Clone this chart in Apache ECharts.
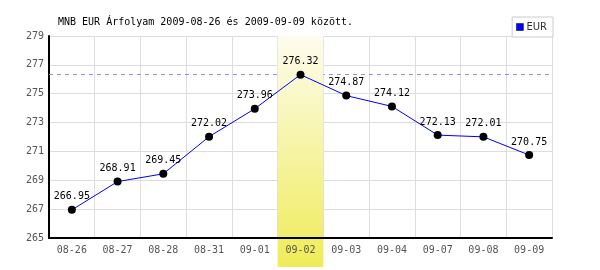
<!DOCTYPE html>
<html><head><meta charset="utf-8">
<script src="https://cdn.jsdelivr.net/npm/echarts@6/dist/echarts.min.js"></script>
<style>html,body{margin:0;padding:0;background:#fff}#c{width:600px;height:270px}</style>
</head><body><div id="c"></div>
<script>
const categories = ['08-26','08-27','08-28','08-31','09-01','09-02','09-03','09-04','09-07','09-08','09-09'];
const eurValues = [266.95, 268.91, 269.45, 272.02, 273.96, 276.32, 274.87, 274.12, 272.13, 272.01, 270.75];
const highlightCategory = '09-02';
const yTicks = [265, 267, 269, 271, 273, 275, 277, 279];
const titleText = 'MNB EUR Árfolyam 2009-08-26 és 2009-09-09 között.';
const seriesName = 'EUR';

const mono = 'DejaVu Sans Mono';
const highlightData = categories.map(c => c === highlightCategory ? 1 : null);

const chart = echarts.init(document.getElementById('c'), null, {renderer: 'canvas'});
chart.setOption({
  animation: false,
  backgroundColor: '#fff',
  title: {
    text: titleText, left: 53, top: 12,
    textStyle: {fontFamily: mono, fontSize: 10, fontWeight: 'normal', color: '#000'}
  },
  legend: {
    data: [{name: seriesName, itemStyle: {color: '#0000ff', borderColor: '#000', borderWidth: 0.5}}],
    right: 47, top: 17,
    backgroundColor: '#fff', borderColor: '#ccc', borderWidth: 1,
    padding: [5, 6, 5, 4], itemWidth: 7, itemHeight: 7, itemGap: 3,
    icon: 'rect',
    textStyle: {fontFamily: 'DejaVu Sans', fontSize: 10, color: '#333', padding: [0,0,0,-2]}
  },
  grid: [
    {left: 49, right: 48, top: 36, bottom: 32},
    {left: 49, right: 48, top: 36, bottom: 3}
  ],
  xAxis: [
    {
      type: 'category', data: categories, gridIndex: 0, boundaryGap: true, z: 0,
      axisLine: {show: false}, axisTick: {show: false}, axisLabel: {show: false},
      splitLine: {show: true, interval: 0, lineStyle: {color: '#ddd', width: 1}}
    },
    {
      type: 'category', data: categories, gridIndex: 1, boundaryGap: true, show: false
    },
    {
      type: 'category', data: categories, gridIndex: 0, boundaryGap: true, z: 10,
      position: 'bottom',
      axisLine: {show: true, onZero: false, lineStyle: {color: '#000', width: 2}},
      axisTick: {show: false},
      axisLabel: {fontFamily: mono, fontSize: 10, color: '#555', margin: 7, interval: 0},
      splitLine: {show: false}
    }
  ],
  yAxis: [
    {
      type: 'value', gridIndex: 0, min: yTicks[0], max: yTicks[yTicks.length-1], interval: 2,
      axisLine: {show: true, lineStyle: {color: '#000', width: 2}},
      axisTick: {show: false},
      axisLabel: {fontFamily: mono, fontSize: 10, color: '#555', margin: 5},
      splitLine: {show: true, lineStyle: {color: '#ddd', width: 1}}
    },
    {type: 'value', gridIndex: 1, min: 0, max: 1, show: false}
  ],
  series: [
    {
      type: 'bar', name: 'highlight', xAxisIndex: 1, yAxisIndex: 1,
      data: highlightData, barWidth: '100%', z: 2, silent: true,
      itemStyle: {color: new echarts.graphic.LinearGradient(0, 0, 0, 1, [
        {offset: 0, color: '#fdfcee'}, {offset: 1, color: '#efec58'}
      ])}
    },
    {
      type: 'line', name: seriesName, data: eurValues, z: 3,
      xAxisIndex: 0, yAxisIndex: 0,
      symbol: 'circle', symbolSize: 8,
      itemStyle: {color: '#000'},
      lineStyle: {color: '#0000ff', width: 1},
      label: {show: true, position: 'top', distance: 4, fontFamily: mono, fontSize: 10, color: '#000'},
      markLine: {
        silent: true, symbol: 'none', z: 1, label: {show: false},
        lineStyle: {color: '#8c8cff', type: [4, 4], width: 1},
        data: [{type: 'max'}]
      }
    }
  ]
});
</script></body></html>
